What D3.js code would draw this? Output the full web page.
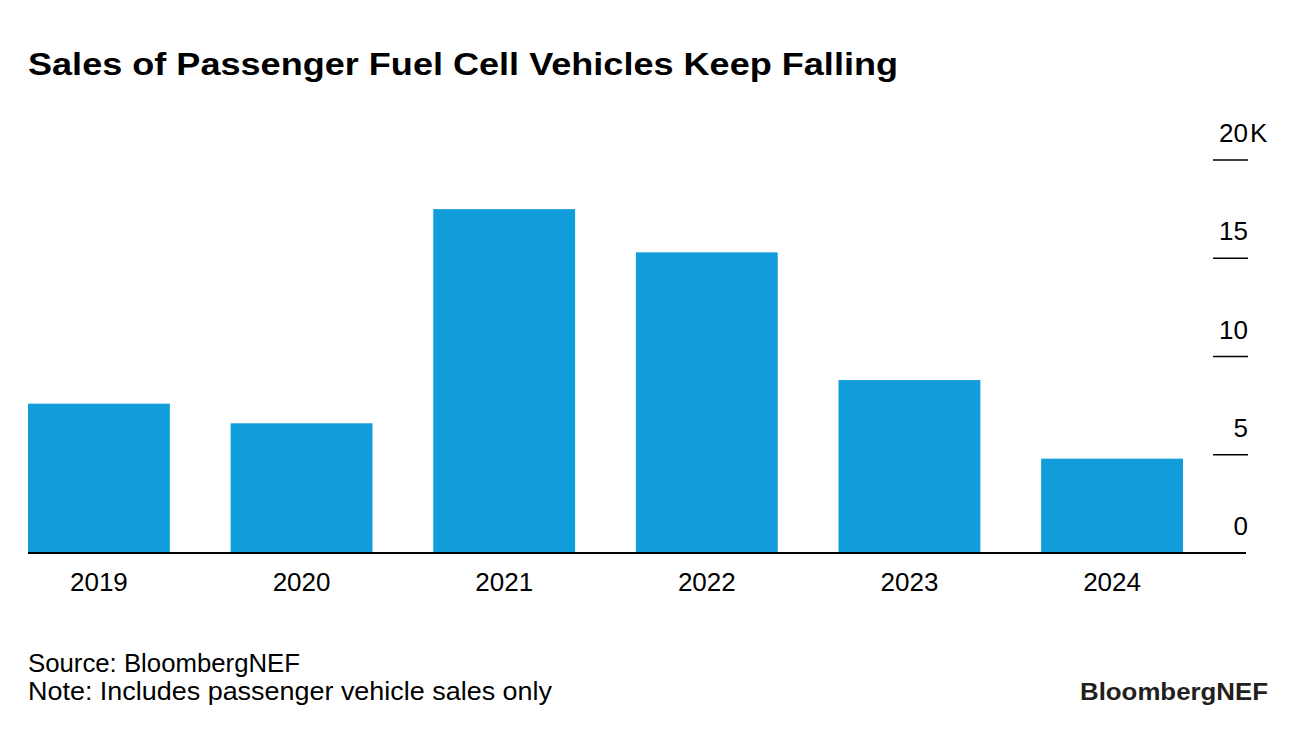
<!DOCTYPE html>
<html>
<head>
<meta charset="utf-8">
<script src="https://cdn.jsdelivr.net/npm/d3@7"></script>
<style>
  body { margin: 0; background: #fff; }
  svg { font-family: "Liberation Sans", Arial, sans-serif; }
</style>
</head>
<body>
<svg width="1296" height="732"></svg>
<script>
// data (thousands of vehicles)
var years = ["2019", "2020", "2021", "2022", "2023", "2024"];
var sales = [7.6, 6.6, 17.5, 15.3, 8.8, 4.8];
var yTicks = [0, 5, 10, 15, 20];

var svg = d3.select("svg");

// scales
var x = d3.scaleBand()
    .domain(years)
    .range([28, 1183])
    .paddingInner(0.3)
    .paddingOuter(0);

var y = d3.scaleLinear()
    .domain([0, 20])
    .range([553, 160]);

// title
svg.append("text")
    .attr("x", 28)
    .attr("y", 75)
    .style("font-size", "31px")
    .style("font-weight", "bold")
    .attr("textLength", 870)
    .attr("lengthAdjust", "spacingAndGlyphs")
    .text("Sales of Passenger Fuel Cell Vehicles Keep Falling");

// bars
svg.selectAll(".bar")
    .data(years)
    .enter().append("rect")
    .attr("class", "bar")
    .attr("x", function(d) { return x(d); })
    .attr("y", function(d, i) { return y(sales[i]); })
    .attr("width", x.bandwidth())
    .attr("height", function(d, i) { return y(0) - y(sales[i]); })
    .style("fill", "#109dd9");

// baseline
svg.append("line")
    .attr("x1", 28)
    .attr("x2", 1246)
    .attr("y1", y(0))
    .attr("y2", y(0))
    .style("stroke", "#000")
    .style("stroke-width", 2);

// x axis labels
svg.append("g")
    .selectAll("text")
    .data(years)
    .enter().append("text")
    .attr("x", function(d) { return x(d) + x.bandwidth() / 2; })
    .attr("y", 591)
    .attr("text-anchor", "middle")
    .style("font-size", "26px")
    .text(function(d) { return d; });

// y axis on the right: short ticks with labels above
var yAxis = svg.append("g").attr("class", "axisy");

yAxis.selectAll("line")
    .data(yTicks.filter(function(d) { return d > 0; }))
    .enter().append("line")
    .attr("x1", 1213)
    .attr("x2", 1248)
    .attr("y1", function(d) { return y(d); })
    .attr("y2", function(d) { return y(d); })
    .style("stroke", "#000")
    .style("stroke-width", 1.5);

yAxis.selectAll("text")
    .data(yTicks)
    .enter().append("text")
    .attr("x", 1248)
    .attr("y", function(d) { return y(d) - 18; })
    .attr("text-anchor", "end")
    .style("font-size", "26px")
    .text(function(d) { return d; });

// the "K" unit hangs past the right edge on the top label
yAxis.append("text")
    .attr("x", 1250)
    .attr("y", y(20) - 18)
    .style("font-size", "26px")
    .text("K");

// footer
svg.append("text")
    .attr("x", 28)
    .attr("y", 672)
    .style("font-size", "26px")
    .attr("textLength", 272)
    .attr("lengthAdjust", "spacingAndGlyphs")
    .text("Source: BloombergNEF");

svg.append("text")
    .attr("x", 28)
    .attr("y", 700)
    .style("font-size", "26px")
    .attr("textLength", 524)
    .attr("lengthAdjust", "spacingAndGlyphs")
    .text("Note: Includes passenger vehicle sales only");

svg.append("text")
    .attr("x", 1268)
    .attr("y", 700)
    .attr("text-anchor", "end")
    .style("font-size", "24px")
    .style("font-weight", "bold")
    .style("fill", "#231f20")
    .attr("textLength", 188)
    .attr("lengthAdjust", "spacingAndGlyphs")
    .text("BloombergNEF");
</script>
</body>
</html>
